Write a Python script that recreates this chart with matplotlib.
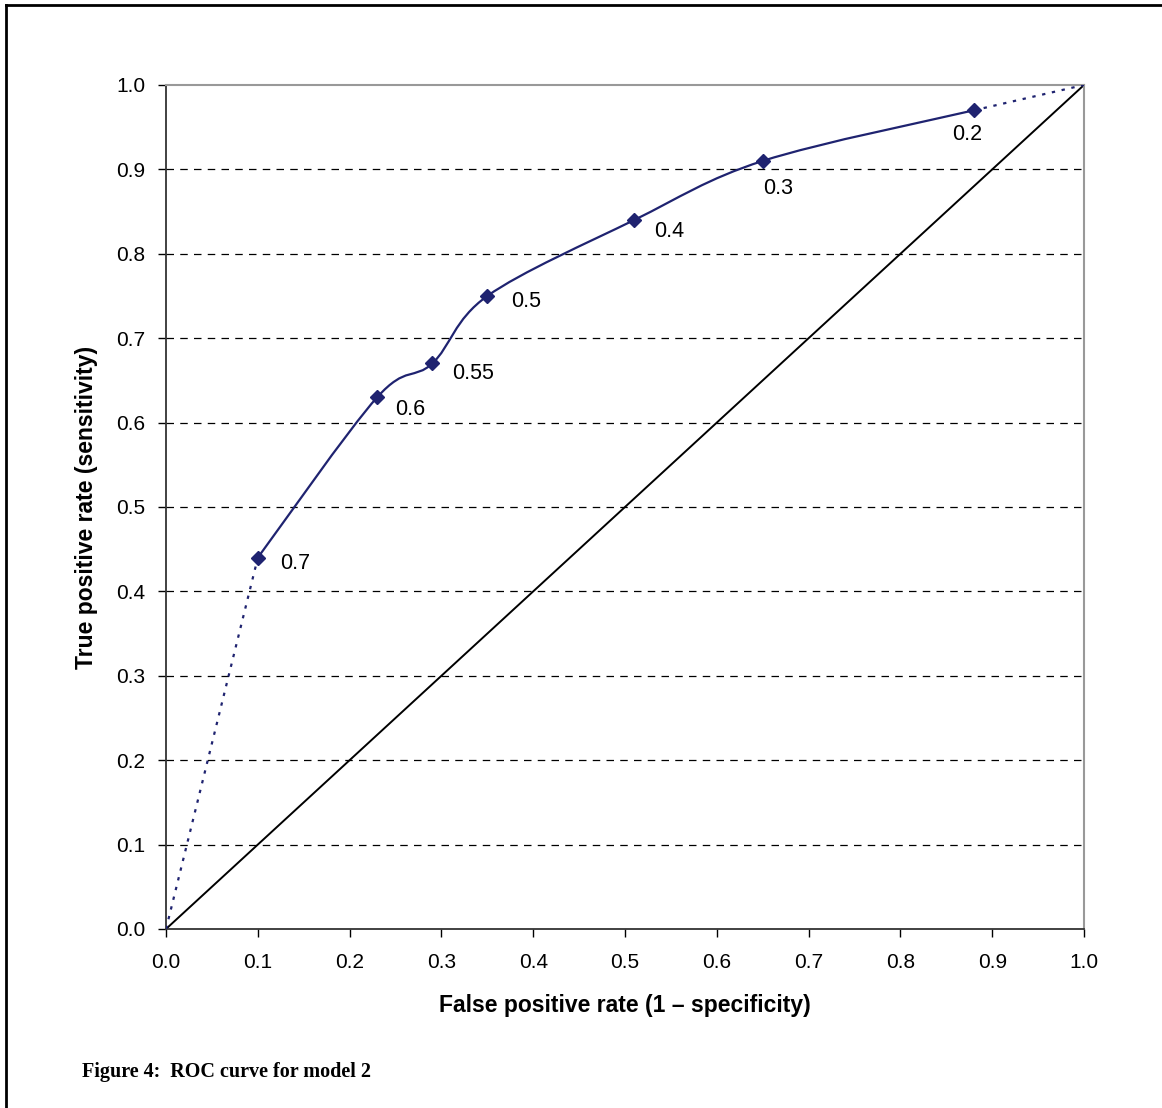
import matplotlib.pyplot as plt
from matplotlib.path import Path
from matplotlib.patches import PathPatch
from matplotlib.lines import Line2D

# ROC points (false positive rate, true positive rate) with cut-off labels
fpr = [0.10, 0.23, 0.29, 0.35, 0.51, 0.65, 0.88]
tpr = [0.44, 0.63, 0.67, 0.75, 0.84, 0.91, 0.97]
cutoffs = ["0.7", "0.6", "0.55", "0.5", "0.4", "0.3", "0.2"]
label_dx = [22, 18, 20, 24, 20, 0, -22]
label_dy = [-6, -12, -10, -6, -11, -28, -24]

ticks = [0.0, 0.1, 0.2, 0.3, 0.4, 0.5, 0.6, 0.7, 0.8, 0.9, 1.0]
navy = "#1f2370"

plt.rcParams["font.family"] = ["Liberation Sans", "DejaVu Sans"]

fig = plt.figure(figsize=(11.62, 11.08), dpi=100)
ax = fig.add_axes([0.1429, 0.1616, 0.7900, 0.7617])

for t in ticks[1:-1]:
    ax.axhline(t, color="black", lw=0.9, ls=(0, (6, 5)), zorder=1)

# diagonal reference line
ax.plot([0, 1], [0, 1], color="black", lw=1.4, zorder=2)

# dotted extensions to the corners
ax.plot([0, fpr[0]], [0, tpr[0]], color=navy, lw=1.6, ls=(0, (1.5, 3)), zorder=3)
ax.plot([fpr[-1], 1], [tpr[-1], 1], color=navy, lw=1.6, ls=(0, (1.5, 3)), zorder=3)

# smoothed curve through the points (Catmull-Rom as cubic bezier)
verts = [(fpr[0], tpr[0])]
codes = [Path.MOVETO]
n = len(fpr)
for i in range(n - 1):
    p0 = (fpr[max(i - 1, 0)], tpr[max(i - 1, 0)])
    p1 = (fpr[i], tpr[i])
    p2 = (fpr[i + 1], tpr[i + 1])
    p3 = (fpr[min(i + 2, n - 1)], tpr[min(i + 2, n - 1)])
    c1 = (p1[0] + (p2[0] - p0[0]) / 6, p1[1] + (p2[1] - p0[1]) / 6)
    c2 = (p2[0] - (p3[0] - p1[0]) / 6, p2[1] - (p3[1] - p1[1]) / 6)
    verts += [c1, c2, p2]
    codes += [Path.CURVE4] * 3
ax.add_patch(PathPatch(Path(verts, codes), fill=False, edgecolor=navy, lw=1.6, zorder=3))

ax.plot(fpr, tpr, ls="none", marker="D", ms=7, color=navy, zorder=4)

for x, y, lab, dx, dy in zip(fpr, tpr, cutoffs, label_dx, label_dy):
    ax.annotate(lab, (x, y), xytext=(dx, dy), textcoords="offset pixels",
                ha="left", va="center", fontsize=15.5)

ax.set_xlim(0, 1)
ax.set_ylim(0, 1)
ax.set_xticks(ticks)
ax.set_yticks(ticks)
ax.set_xticklabels([f"{t:.1f}" for t in ticks])
ax.set_yticklabels([f"{t:.1f}" for t in ticks])
ax.tick_params(direction="out", length=6, width=1, labelsize=15, pad=9)
ax.tick_params(axis="x", pad=11)
for s in ["top", "right"]:
    ax.spines[s].set_color("#999999")
    ax.spines[s].set_linewidth(1.5)
for s in ["left", "bottom"]:
    ax.spines[s].set_color("#333333")
    ax.spines[s].set_linewidth(1.3)

ax.set_xlabel("False positive rate (1 \u2013 specificity)", fontsize=16.5, fontweight="bold", labelpad=16)
ax.set_ylabel("True positive rate (sensitivity)", fontsize=16.5, fontweight="bold", labelpad=13)

fig.text(0.0706, 0.0235, "Figure 4:  ROC curve for model 2", fontsize=14.5, fontweight="bold",
         family=["Liberation Serif", "DejaVu Serif"], ha="left", va="bottom")

# page frame on left and top
fig.add_artist(Line2D([0.0052, 0.0052], [0, 0.9955], transform=fig.transFigure, color="black", lw=2))
fig.add_artist(Line2D([0.0052, 1], [0.9955, 0.9955], transform=fig.transFigure, color="black", lw=2))

fig.savefig("out.png", dpi=100)
